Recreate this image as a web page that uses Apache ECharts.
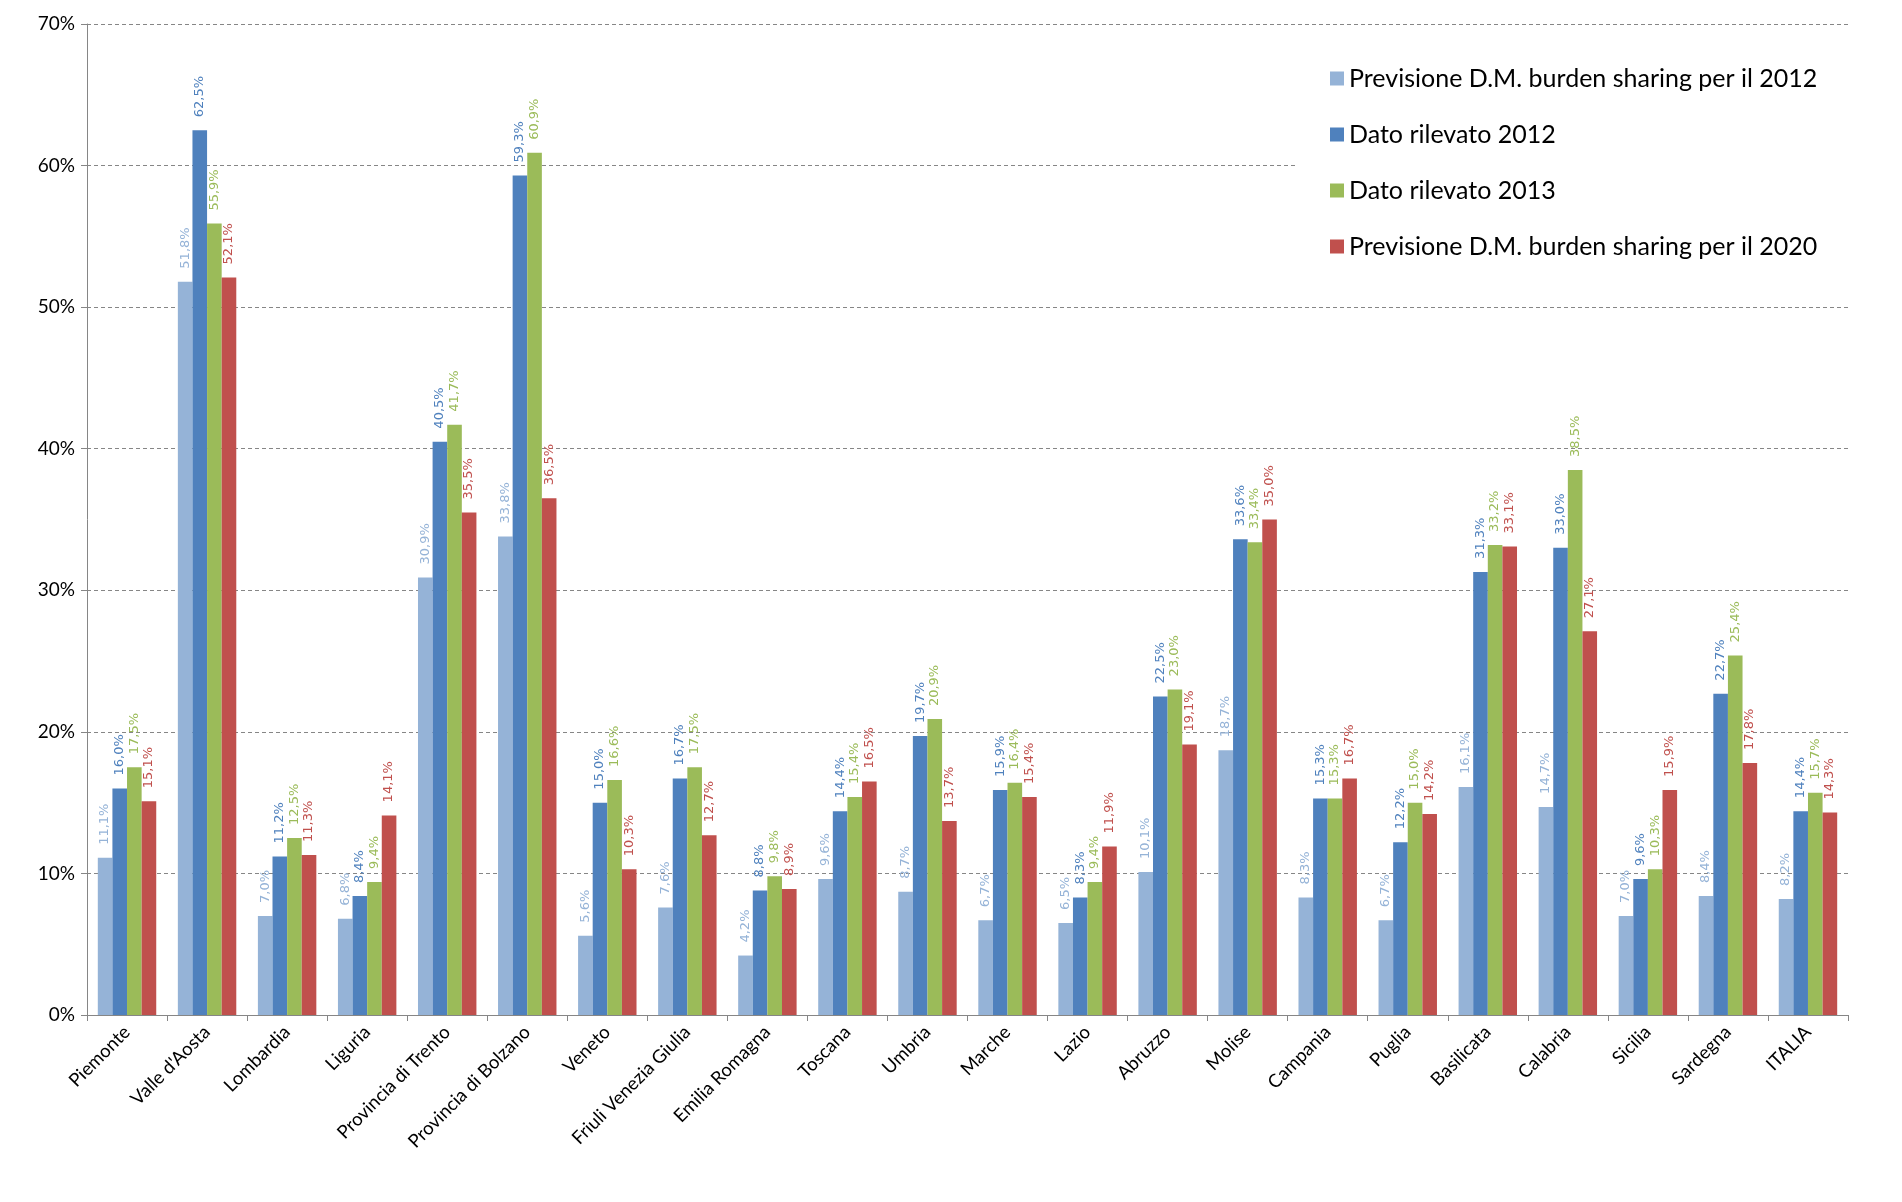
<!DOCTYPE html>
<html>
<head>
<meta charset="utf-8">
<script src="https://cdn.jsdelivr.net/npm/echarts@6/dist/echarts.min.js"></script>
<style>
html,body{margin:0;padding:0;background:#fff;}
#chart{width:1902px;height:1202px;}
</style>
</head>
<body>
<div id="chart"></div>
<script>
const categories = ["Piemonte","Valle d'Aosta","Lombardia","Liguria","Provincia di Trento","Provincia di Bolzano","Veneto","Friuli Venezia Giulia","Emilia Romagna","Toscana","Umbria","Marche","Lazio","Abruzzo","Molise","Campania","Puglia","Basilicata","Calabria","Sicilia","Sardegna","ITALIA"];
const seriesNames = ["Previsione D.M. burden sharing per il 2012","Dato rilevato 2012","Dato rilevato 2013","Previsione D.M. burden sharing per il 2020"];
const previsione2012 = [11.1,51.8,7.0,6.8,30.9,33.8,5.6,7.6,4.2,9.6,8.7,6.7,6.5,10.1,18.7,8.3,6.7,16.1,14.7,7.0,8.4,8.2];
const rilevato2012 = [16.0,62.5,11.2,8.4,40.5,59.3,15.0,16.7,8.8,14.4,19.7,15.9,8.3,22.5,33.6,15.3,12.2,31.3,33.0,9.6,22.7,14.4];
const rilevato2013 = [17.5,55.9,12.5,9.4,41.7,60.9,16.6,17.5,9.8,15.4,20.9,16.4,9.4,23.0,33.4,15.3,15.0,33.2,38.5,10.3,25.4,15.7];
const previsione2020 = [15.1,52.1,11.3,14.1,35.5,36.5,10.3,12.7,8.9,16.5,13.7,15.4,11.9,19.1,35.0,16.7,14.2,33.1,27.1,15.9,17.8,14.3];
const colors = ["#95B3D7","#4F81BD","#9BBB59","#C0504D"];
const yTicks = {min:0, max:70, interval:10};

const dataSets = [previsione2012, rilevato2012, rilevato2013, previsione2020];
const chart = echarts.init(document.getElementById('chart'), null, {renderer:'canvas'});
const series = dataSets.map((d,i)=>({
  name: seriesNames[i],
  type: 'bar',
  data: d,
  barGap: '0%',
  barCategoryGap: '27%',
  itemStyle: {color: colors[i]},
  label: {
    show: true,
    position: 'top',
    rotate: 90,
    align: 'left',
    verticalAlign: 'middle',
    distance: 13,
    color: colors[i],
    fontFamily: 'DejaVu Sans',
    fontSize: 13,
    formatter: p => p.value.toFixed(1).replace('.', ',') + '%'
  }
}));
chart.setOption({
  animation: false,
  backgroundColor: '#fff',
  color: colors,
  grid: {left: 87, right: 54, top: 24, bottom: 187, containLabel: false},
  legend: {
    orient: 'vertical',
    left: 1296,
    top: 50,
    backgroundColor: '#fff',
    padding: [14, 40, 14, 34],
    itemWidth: 14,
    itemHeight: 14,
    itemGap: 27,
    icon: 'rect',
    textStyle: {fontFamily: 'Lato', fontSize: 25, color: '#000', lineHeight: 29},
    data: seriesNames
  },
  xAxis: {
    type: 'category',
    data: categories,
    boundaryGap: true,
    axisLine: {lineStyle: {color: '#868686', width: 1}},
    axisTick: {show: true, alignWithLabel: false, length: 6, lineStyle: {color: '#868686'}},
    axisLabel: {rotate: 45, interval: 0, margin: 14, color: '#000', fontFamily: 'Lato', fontSize: 18.5}
  },
  yAxis: {
    type: 'value',
    min: yTicks.min, max: yTicks.max, interval: yTicks.interval,
    axisLine: {show: true, lineStyle: {color: '#868686'}},
    axisTick: {show: true, length: 6, lineStyle: {color: '#868686'}},
    axisLabel: {formatter: '{value}%', color: '#000', fontFamily: '"Liberation Sans Narrow", Lato', fontSize: 19, margin: 12},
    splitLine: {show: true, lineStyle: {color: '#868686', type: [4,3], width: 1}}
  },
  series: series
});
</script>
</body>
</html>
